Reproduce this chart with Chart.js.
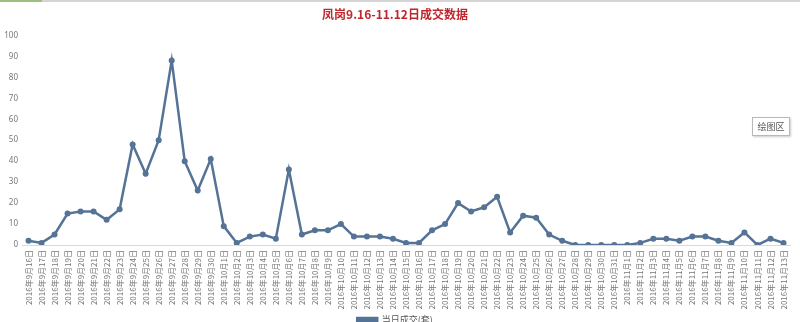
<!DOCTYPE html>
<html lang="zh">
<head>
<meta charset="UTF-8">
<title>凤岗成交数据</title>
<script src="https://cdn.jsdelivr.net/npm/chart.js@4"></script>
<style>
  html, body { margin: 0; padding: 0; background: #fff; }
  body { width: 800px; height: 322px; overflow: hidden; position: relative; }
  #topline { position: absolute; left: 0; top: 0; width: 800px; height: 2px; background: #d4d4d4; }
  #topline span { position: absolute; left: 0; top: 0; width: 42px; height: 2px; background: #9fbf7f; }
  #box { position: absolute; left: 752px; top: 117px; width: 36px; height: 17px; border: 1px solid #b8b8b8;
         box-shadow: 1px 1px 2px #ccc; background: #fff; font: 9px "Noto Sans CJK SC", sans-serif; color: #555;
         text-align: center; line-height: 17px; }
</style>
</head>
<body>
<div id="topline"><span></span></div>
<canvas id="c" width="800" height="336"></canvas>
<div id="box">绘图区</div>
<script>
// 日期
const months = ['9月', '10月', '11月'];
const monthDays = [[16, 30], [1, 31], [1, 13]];
const labels = [];
monthDays.forEach((r, i) => {
  for (let d = r[0]; d <= r[1]; d++) labels.push('2016年' + months[i] + d + '日');
});

// 当日成交(套)
const sepDeals = [2, 1, 5, 15, 16, 16, 12, 17, 48, 34, 50, 88, 40, 26, 41];
const octDeals = [9, 1, 4, 5, 3, 36, 5, 7, 7, 10, 4, 4, 4, 3, 1, 1, 7, 10, 20, 16, 18, 23, 6, 14, 13, 5, 2, 0, 0, 0, 0];
const novDeals = [0, 1, 3, 3, 2, 4, 4, 2, 1, 6, 0, 3, 1];
const deals = sepDeals.concat(octDeals, novDeals);

const yTicks = [0, 10, 20, 30, 40, 50, 60, 70, 80, 90, 100];

const lineColor = '#557396';

new Chart(document.getElementById('c'), {
  type: 'line',
  data: {
    labels: labels,
    datasets: [{
      label: '当日成交(套)',
      data: deals,
      borderColor: lineColor,
      backgroundColor: lineColor,
      borderWidth: 2.5,
      pointRadius: 3,
      pointBackgroundColor: lineColor,
      pointBorderWidth: 0,
      tension: 0
    }]
  },
  options: {
    responsive: false,
    animation: false,
    layout: { padding: { left: 0, right: 10, top: 0, bottom: 2 } },
    plugins: {
      title: {
        display: true,
        text: '凤岗9.16-11.12日成交数据',
        color: '#c0272d',
        font: { family: '"Noto Sans CJK SC", sans-serif', size: 12, weight: 'bold' },
        padding: { top: 7, bottom: 14 }
      },
      legend: {
        position: 'bottom',
        labels: {
          color: '#555',
          font: { family: '"Noto Sans CJK SC", sans-serif', size: 9 },
          boxWidth: 20,
          boxHeight: 3,
          padding: 6
        }
      },
      tooltip: { enabled: false }
    },
    scales: {
      x: {
        offset: true,
        grid: { display: false, drawTicks: false },
        border: { display: true, color: '#d9d9d9' },
        ticks: {
          autoSkip: false,
          minRotation: 90,
          maxRotation: 90,
          color: '#777',
          padding: 5,
          font: { family: '"Noto Sans CJK SC", sans-serif', size: 8 }
        },
        afterFit: s => { s.height = 64; }
      },
      y: {
        min: 0,
        max: 100,
        afterBuildTicks: s => { s.ticks = yTicks.map(v => ({ value: v })); },
        grid: { display: false, drawTicks: false },
        border: { display: false },
        ticks: {
          color: '#777',
          padding: 4,
          font: { family: '"Noto Sans", sans-serif', size: 8 }
        },
        afterFit: s => { s.width = 22; }
      }
    }
  }
});
</script>
</body>
</html>
